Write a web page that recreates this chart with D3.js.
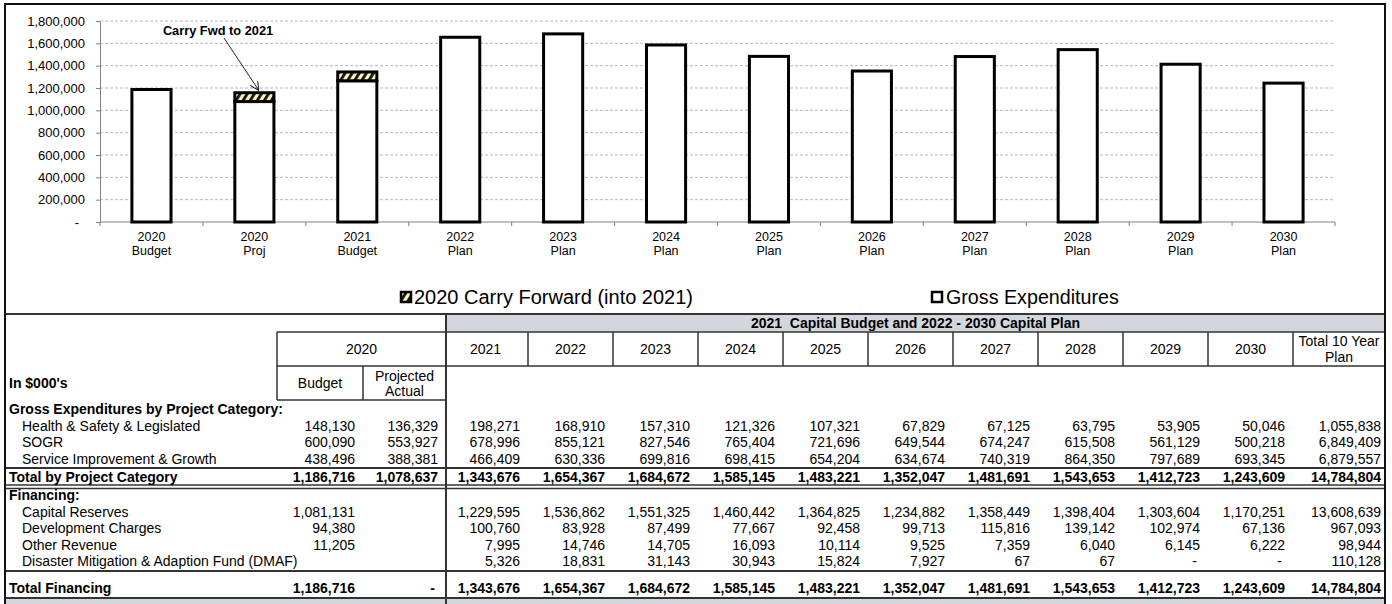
<!DOCTYPE html>
<html>
<head>
<meta charset="utf-8">
<script src="https://cdn.jsdelivr.net/npm/d3@7"></script>
<style>
  html, body { margin: 0; padding: 0; background: #fff; }
  svg { display: block; font-family: "Liberation Sans", Arial, sans-serif; }
  text { white-space: pre; }
</style>
</head>
<body>
<svg id="chart" width="1392" height="604"></svg>
<script>
// ---------------- DATA ----------------
const catLine1 = ["2020", "2020", "2021", "2022", "2023", "2024", "2025", "2026", "2027", "2028", "2029", "2030"];
const catLine2 = ["Budget", "Proj", "Budget", "Plan", "Plan", "Plan", "Plan", "Plan", "Plan", "Plan", "Plan", "Plan"];
const grossExpenditures = [1186716, 1078637, 1264676, 1654367, 1684672, 1585145, 1483221, 1352047, 1481691, 1543653, 1412723, 1243609];
const carryForward = [0, 79000, 79000, 0, 0, 0, 0, 0, 0, 0, 0, 0];
const yTicks = [0, 200000, 400000, 600000, 800000, 1000000, 1200000, 1400000, 1600000, 1800000];
const legendLabels = ["2020 Carry Forward (into 2021)", "Gross Expenditures"];
const annotation = "Carry Fwd to 2021";

const tableTitle = "2021  Capital Budget and 2022 - 2030 Capital Plan";
const planYears = ["2021", "2022", "2023", "2024", "2025", "2026", "2027", "2028", "2029", "2030"];
const totalHeader = ["Total 10 Year", "Plan"];
const group2020 = "2020";
const sub2020 = [["Budget"], ["Projected", "Actual"]];
const unitsLabel = "In $000's";
const section1 = "Gross Expenditures by Project Category:";
const section2 = "Financing:";
// column order: 2020 Budget, 2020 Projected Actual, 2021..2030, Total 10 Year Plan
const healthSafety = [148130, 136329, 198271, 168910, 157310, 121326, 107321, 67829, 67125, 63795, 53905, 50046, 1055838];
const sogr = [600090, 553927, 678996, 855121, 827546, 765404, 721696, 649544, 674247, 615508, 561129, 500218, 6849409];
const serviceImprovement = [438496, 388381, 466409, 630336, 699816, 698415, 654204, 634674, 740319, 864350, 797689, 693345, 6879557];
const totalByCategory = [1186716, 1078637, 1343676, 1654367, 1684672, 1585145, 1483221, 1352047, 1481691, 1543653, 1412723, 1243609, 14784804];
const capitalReserves = [1081131, null, 1229595, 1536862, 1551325, 1460442, 1364825, 1234882, 1358449, 1398404, 1303604, 1170251, 13608639];
const developmentCharges = [94380, null, 100760, 83928, 87499, 77667, 92458, 99713, 115816, 139142, 102974, 67136, 967093];
const otherRevenue = [11205, null, 7995, 14746, 14705, 16093, 10114, 9525, 7359, 6040, 6145, 6222, 98944];
const dmaf = [null, null, 5326, 18831, 31143, 30943, 15824, 7927, 67, 67, 0, 0, 110128];
const totalFinancing = [1186716, 0, 1343676, 1654367, 1684672, 1585145, 1483221, 1352047, 1481691, 1543653, 1412723, 1243609, 14784804];
const rowLabels = ["Health & Safety & Legislated", "SOGR", "Service Improvement & Growth", "Total by Project Category",
  "Capital Reserves", "Development Charges", "Other Revenue", "Disaster Mitigation & Adaption Fund (DMAF)", "Total Financing"];
const rowValues = [healthSafety, sogr, serviceImprovement, totalByCategory, capitalReserves, developmentCharges, otherRevenue, dmaf, totalFinancing];
const rowBold = [false, false, false, true, false, false, false, false, true];

// ---------------- LAYOUT ----------------
const svg = d3.select("#chart");
const defs = svg.append("defs");
const pat = defs.append("pattern").attr("id", "hatch").attr("patternUnits", "userSpaceOnUse")
  .attr("width", 6).attr("height", 6).attr("patternTransform", "rotate(32)");
pat.append("rect").attr("width", 6).attr("height", 6).attr("fill", "#fbf6bd");
pat.append("rect").attr("x", 0).attr("y", 0).attr("width", 2.8).attr("height", 6).attr("fill", "#111");
defs.append("marker").attr("id", "arrow").attr("viewBox", "0 0 10 10").attr("refX", 9).attr("refY", 5)
  .attr("markerWidth", 9).attr("markerHeight", 9).attr("orient", "auto").attr("markerUnits", "userSpaceOnUse")
  .append("path").attr("d", "M0,0 L10,5 L0,10").attr("fill", "none").attr("stroke", "#222").attr("stroke-width", 1.2);

const plotL = 100, plotR = 1335, plotT = 21, plotB = 222;
const keys = catLine1.map((d, i) => d + " " + catLine2[i]);
const x = d3.scaleBand().domain(keys).range([plotL, plotR]).paddingInner(0.62).paddingOuter(0.31);
const y = d3.scaleLinear().domain([0, 1800000]).range([plotB, plotT]);

// gridlines
svg.append("g").selectAll("line").data(yTicks.filter(d => d > 0)).join("line")
  .attr("x1", plotL).attr("x2", plotR).attr("y1", d => y(d)).attr("y2", d => y(d))
  .attr("stroke", "#b8b8b8").attr("stroke-width", 1).attr("stroke-dasharray", "3,2");

// y axis
const yAxis = svg.append("g").attr("transform", `translate(${plotL},0)`)
  .call(d3.axisLeft(y).tickValues(yTicks).tickSize(4).tickSizeOuter(0).tickPadding(11)
    .tickFormat(d => d === 0 ? "-" : d3.format(",")(d)));
yAxis.select(".domain").attr("stroke", "#808080");
yAxis.selectAll(".tick line").attr("stroke", "#808080");
yAxis.selectAll(".tick text").attr("font-size", 13).attr("fill", "#000")
  .attr("font-family", "Liberation Sans, Arial, sans-serif")
  .attr("dx", d => d === 0 ? -6 : 0);

// x axis line + boundary ticks
svg.append("line").attr("x1", plotL).attr("x2", plotR).attr("y1", plotB).attr("y2", plotB).attr("stroke", "#808080");
const step = x.step();
svg.append("g").selectAll("line").data(d3.range(keys.length + 1)).join("line")
  .attr("x1", i => plotL + i * step).attr("x2", i => plotL + i * step)
  .attr("y1", plotB).attr("y2", plotB + 4).attr("stroke", "#808080");
const xl = svg.append("g").selectAll("text").data(keys).join("text")
  .attr("x", d => x(d) + x.bandwidth() / 2).attr("text-anchor", "middle").attr("font-size", 12.5);
xl.append("tspan").attr("x", d => x(d) + x.bandwidth() / 2).attr("y", 241).text((d, i) => catLine1[i]);
xl.append("tspan").attr("x", d => x(d) + x.bandwidth() / 2).attr("y", 255).text((d, i) => catLine2[i]);

// bars
svg.append("g").selectAll("rect").data(keys).join("rect")
  .attr("x", d => x(d)).attr("width", x.bandwidth())
  .attr("y", (d, i) => y(grossExpenditures[i])).attr("height", (d, i) => y(0) - y(grossExpenditures[i]))
  .attr("fill", "#fff").attr("stroke", "#000").attr("stroke-width", 3);
svg.append("g").selectAll("rect").data(keys.filter((d, i) => carryForward[i] > 0)).join("rect")
  .attr("x", d => x(d)).attr("width", x.bandwidth())
  .attr("y", d => { const i = keys.indexOf(d); return y(grossExpenditures[i] + carryForward[i]); })
  .attr("height", d => { const i = keys.indexOf(d); return y(grossExpenditures[i]) - y(grossExpenditures[i] + carryForward[i]); })
  .attr("fill", "url(#hatch)").attr("stroke", "#000").attr("stroke-width", 3);

// annotation
svg.append("text").attr("x", 218).attr("y", 35).attr("text-anchor", "middle").attr("font-size", 12.8)
  .attr("font-weight", "bold").text(annotation);
const annX = x(keys[1]) + x.bandwidth() / 2;
svg.append("line").attr("x1", 224).attr("y1", 38).attr("x2", annX + 4).attr("y2", y(grossExpenditures[1] + carryForward[1]) - 3)
  .attr("stroke", "#222").attr("stroke-width", 1).attr("marker-end", "url(#arrow)");

// legend
svg.append("rect").attr("x", 401).attr("y", 292).attr("width", 10).attr("height", 10)
  .attr("fill", "url(#hatch)").attr("stroke", "#000").attr("stroke-width", 2.5);
svg.append("text").attr("x", 414).attr("y", 304).attr("font-size", 20).text(legendLabels[0]);
svg.append("rect").attr("x", 932).attr("y", 292).attr("width", 10).attr("height", 10)
  .attr("fill", "#fff").attr("stroke", "#000").attr("stroke-width", 2.5);
svg.append("text").attr("x", 946).attr("y", 304).attr("font-size", 19.7).text(legendLabels[1]);

// ---------------- TABLE ----------------
const L = 5, R = 1385, T = 314;
const divX = 446;
const planX = d3.scaleBand().domain(planYears).range([443, 1293]);
const colRight = [355, 438].concat(planYears.map(d => planX(d) + planX.step() - 8), [1381]);
const g = svg.append("g");
const dark = "#333";

// header band
g.append("rect").attr("x", divX).attr("y", T).attr("width", R - divX).attr("height", 18).attr("fill", "#d3d6dd");
g.append("text").attr("x", (divX + R) / 2).attr("y", 328).attr("text-anchor", "middle").attr("font-size", 14)
  .attr("font-weight", "bold").text(tableTitle);
// bottom grey band
g.append("rect").attr("x", L).attr("y", 598).attr("width", R - L).attr("height", 10).attr("fill", "#d3d6dd");

function hline(x1, x2, yy, w) { g.append("line").attr("x1", x1).attr("x2", x2).attr("y1", yy).attr("y2", yy).attr("stroke", dark).attr("stroke-width", w || 1.5); }
function vline(xx, y1, y2, w) { g.append("line").attr("x1", xx).attr("x2", xx).attr("y1", y1).attr("y2", y2).attr("stroke", dark).attr("stroke-width", w || 1.5); }

hline(L, R, T, 2);
hline(277, R, 332, 1.5);
hline(277, R, 366, 1.5);
hline(277, divX, 400, 1.5);
vline(277, 332, 400);
vline(363, 366, 400);
planYears.forEach(d => vline(planX(d) + planX.step(), 332, 366));
vline(divX, T, 604, 2);
hline(L, R, 468, 2);
hline(L, R, 485, 1.5);
hline(L, R, 488.5, 1.5);
hline(L, R, 571, 2);
hline(L, R, 598, 2);

// header texts
g.append("text").attr("x", (277 + divX) / 2).attr("y", 354).attr("text-anchor", "middle").attr("font-size", 14).text(group2020);
g.append("text").attr("x", (277 + 363) / 2).attr("y", 388).attr("text-anchor", "middle").attr("font-size", 14).text(sub2020[0][0]);
g.append("text").attr("x", (363 + divX) / 2).attr("y", 381).attr("text-anchor", "middle").attr("font-size", 14).text(sub2020[1][0]);
g.append("text").attr("x", (363 + divX) / 2).attr("y", 396).attr("text-anchor", "middle").attr("font-size", 14).text(sub2020[1][1]);
g.selectAll(".yh").data(planYears).join("text").attr("class", "yh")
  .attr("x", d => planX(d) + planX.step() / 2).attr("y", 354).attr("text-anchor", "middle").attr("font-size", 14).text(d => d);
g.append("text").attr("x", (1293 + R) / 2).attr("y", 346).attr("text-anchor", "middle").attr("font-size", 14).text(totalHeader[0]);
g.append("text").attr("x", (1293 + R) / 2).attr("y", 362).attr("text-anchor", "middle").attr("font-size", 14).text(totalHeader[1]);

g.append("text").attr("x", 9).attr("y", 388).attr("font-size", 14).attr("font-weight", "bold").text(unitsLabel);
g.append("text").attr("x", 9).attr("y", 414).attr("font-size", 14).attr("font-weight", "bold").text(section1);
g.append("text").attr("x", 9).attr("y", 500).attr("font-size", 14).attr("font-weight", "bold").text(section2);

const rowY = [431, 447, 464, 482, 517, 533, 550, 566, 593];
const fmt = v => v === null ? "" : (v === 0 ? "-" : d3.format(",")(v));
rowLabels.forEach((lab, r) => {
  g.append("text").attr("x", rowBold[r] ? 9 : 22).attr("y", rowY[r]).attr("font-size", 14)
    .attr("font-weight", rowBold[r] ? "bold" : "normal").text(lab);
  g.selectAll(".r" + r).data(rowValues[r]).join("text").attr("class", "r" + r)
    .attr("x", (d, c) => colRight[c] - (d === 0 ? 3 : 0)).attr("y", rowY[r]).attr("text-anchor", "end")
    .attr("font-size", 14).attr("font-weight", rowBold[r] ? "bold" : "normal").text(fmt);
});

// outer frame
svg.append("rect").attr("x", L).attr("y", 4).attr("width", R - L).attr("height", 640)
  .attr("fill", "none").attr("stroke", "#111").attr("stroke-width", 2);
</script>
</body>
</html>
